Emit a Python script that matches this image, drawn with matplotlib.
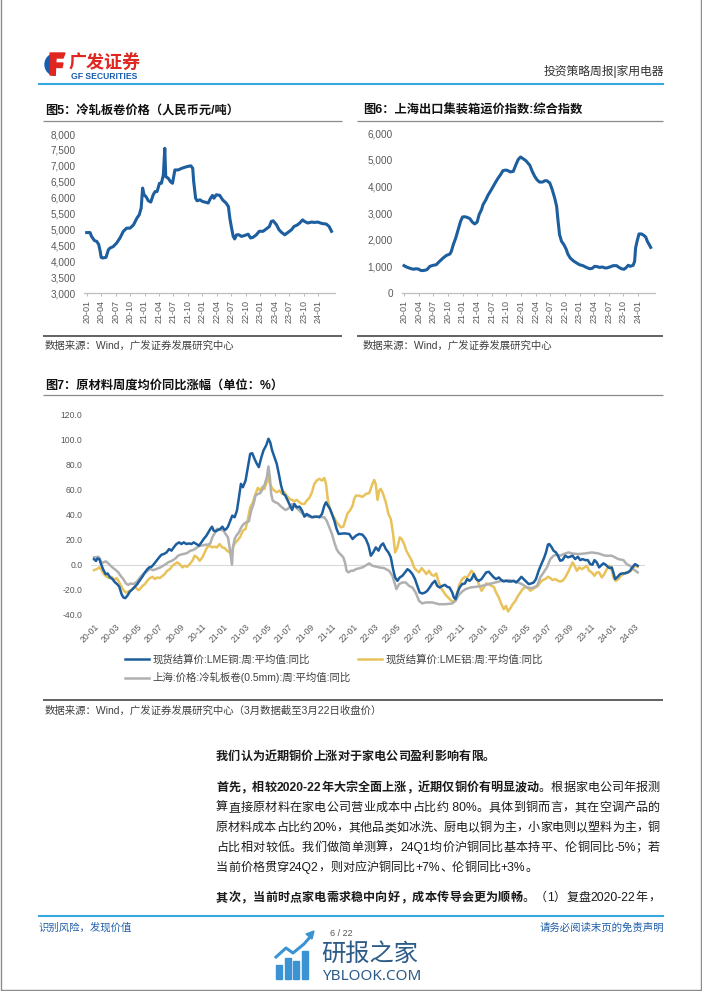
import matplotlib
matplotlib.use('Agg')
import matplotlib.pyplot as plt
from matplotlib import patches

plt.rcParams['font.family'] = ['Liberation Sans', 'Noto Sans CJK SC']
plt.rcParams['axes.unicode_minus'] = False

# ---------------- data (x = months since 2020-01) ----------------
steel_month = [0, 0.7, 1.0, 1.6, 2.1, 2.5, 2.8, 3.0, 3.3, 4.0, 4.5, 4.8, 5.5, 6.2, 6.9, 7.6, 8.3, 9.0,
               9.7, 10.4, 10.9, 11.3, 11.6, 11.9, 12.3, 12.8, 13.3, 13.8, 14.2, 14.6, 15.1, 15.5, 15.9,
               16.2, 16.4, 16.9, 17.4, 17.8, 18.3, 19.0, 19.7, 20.7, 21.6, 22.0, 22.2, 22.6, 22.9, 23.5,
               24.0, 24.5, 25.2, 25.7, 26.1, 26.4, 26.9, 27.6, 28.2, 28.9, 29.4, 29.7, 30.0, 30.4, 30.7,
               31.1, 31.6, 32.1, 32.8, 33.5, 34.0, 34.5, 35.2, 35.8, 36.6, 37.3, 37.9, 38.3, 38.7, 39.4,
               39.9, 40.4, 41.1, 41.8, 42.5, 43.0, 43.7, 44.2, 44.8, 45.2, 45.9, 46.6, 47.3, 48.0, 48.5,
               49.0, 49.7, 50.3, 50.8]
steel_price = [4900, 4900, 4780, 4650, 4620, 4520, 4310, 4120, 4100, 4120, 4360, 4410, 4460, 4570, 4730,
               4940, 5040, 5040, 5140, 5350, 5460, 5670, 6300, 6090, 6030, 5900, 5860, 6090, 6190, 6190,
               6450, 6450, 6710, 7550, 6660, 6610, 6500, 6450, 6870, 6870, 6920, 6970, 7000, 6920, 6500,
               5980, 5900, 5930, 5880, 5860, 5830, 5980, 6070, 5980, 6090, 6070, 5930, 5830, 5720, 5350,
               5090, 4780, 4700, 4830, 4830, 4780, 4810, 4850, 4730, 4750, 4830, 4940, 4940, 5020, 5090,
               5250, 5270, 5140, 4990, 4910, 4830, 4910, 4990, 5090, 5140, 5200, 5300, 5250, 5200, 5230,
               5220, 5230, 5200, 5180, 5170, 5090, 4940]

scfi_month = [0, 0.5, 1.0, 1.5, 2.0, 2.4, 2.9, 3.4, 3.8, 4.2, 4.7, 5.3, 6.0, 6.6, 7.3, 8.0, 8.7, 9.4,
              9.7, 10.1, 10.6, 11.1, 11.6, 12.0, 12.4, 12.9, 13.5, 14.0, 14.5, 15.0, 15.4, 15.9, 16.2,
              16.8, 17.2, 17.7, 18.3, 18.8, 19.3, 19.8, 20.3, 20.9, 21.3, 21.8, 22.4, 22.9, 23.4, 23.9,
              24.4, 25.0, 25.4, 25.8, 26.3, 26.8, 27.3, 27.8, 28.4, 28.9, 29.3, 29.9, 30.4, 30.9, 31.3,
              31.6, 31.9, 32.3, 32.8, 33.3, 33.6, 34.1, 34.7, 35.4, 36.0, 36.7, 37.4, 38.1, 38.6, 39.1,
              39.6, 40.1, 40.7, 41.2, 41.6, 42.2, 42.9, 43.6, 44.1, 44.6, 45.1, 45.5, 46.0, 46.4, 47.0,
              47.3, 47.5, 47.8, 48.2, 48.7, 49.2, 49.6, 49.9, 50.3, 50.6]
scfi_index = [1025, 975, 940, 910, 890, 910, 900, 850, 840, 850, 875, 1000, 1040, 1060, 1190, 1310, 1410,
              1460, 1560, 1810, 2060, 2375, 2690, 2850, 2860, 2840, 2790, 2660, 2590, 2660, 2940, 3125,
              3310, 3500, 3660, 3810, 4000, 4160, 4310, 4440, 4590, 4610, 4590, 4540, 4560, 4790, 5000,
              5100, 5040, 4960, 4875, 4790, 4560, 4375, 4240, 4160, 4160, 4210, 4210, 4125, 3875, 3560,
              3250, 2690, 2190, 1940, 1810, 1625, 1460, 1310, 1210, 1125, 1060, 1025, 960, 910, 925, 1000,
              990, 960, 975, 940, 940, 975, 1025, 1025, 960, 910, 890, 940, 1040, 1000, 1040, 1190, 1690,
              1940, 2215, 2215, 2160, 2090, 1940, 1810, 1710]

cu_month = [0, 0.18, 0.31, 0.49, 0.65, 0.86, 1.08, 1.26, 1.48, 1.72, 1.94, 2.15, 2.34, 2.55, 2.71, 2.89,
            3.08, 3.32, 3.57, 3.78, 4.0, 4.25, 4.49, 4.71, 4.92, 5.11, 5.32, 5.54, 5.78, 6.03, 6.25, 6.46,
            6.71, 6.95, 7.17, 7.38, 7.63, 7.88, 8.09, 8.31, 8.55, 8.8, 9.02, 9.23, 9.48, 9.72, 9.94, 10.15,
            10.4, 10.58, 10.77, 10.92, 11.08, 11.26, 11.48, 11.69, 11.88, 12.09, 12.25, 12.4, 12.62, 12.8,
            13.02, 13.23, 13.42, 13.6, 13.78, 14.03, 14.25, 14.46, 14.65, 14.86, 15.08, 15.26, 15.48,
            15.69, 15.94, 16.15, 16.31, 16.49, 16.71, 16.92, 17.11, 17.32, 17.54, 17.72, 17.94, 18.15,
            18.34, 18.55, 18.77, 19.02, 19.26, 19.48, 19.69, 19.94, 20.18, 20.4, 20.62, 20.86, 21.11,
            21.32, 21.48, 21.66, 21.85, 22.03, 22.25, 22.46, 22.65, 23.17, 23.63, 23.94, 24.25, 24.55,
            24.86, 25.17, 25.42, 25.63, 25.85, 26.09, 26.34, 26.55, 26.77, 27.02, 27.26, 27.48, 27.69,
            27.88, 28.09, 28.31, 28.55, 28.8, 29.02, 29.23, 29.48, 29.72, 29.94, 30.15, 30.4, 30.65,
            30.86, 31.08, 31.32, 31.57, 31.78, 32.0, 32.25, 32.49, 32.71, 32.92, 33.17, 33.32, 33.48,
            33.63, 33.85, 34.09, 34.34, 34.55, 34.77, 34.95, 35.17, 35.38, 35.63, 35.88, 36.09, 36.31,
            36.55, 36.8, 37.02, 37.23, 37.48, 37.72, 37.94, 38.15, 38.4, 38.65, 38.86, 39.08, 39.32,
            39.57, 39.78, 40.0, 40.25, 40.49, 40.71, 40.92, 41.17, 41.42, 41.63, 41.85, 42.03, 42.15,
            42.34, 42.55, 42.77, 42.95, 43.17, 43.38, 43.63, 43.88, 44.09, 44.31, 44.55, 44.8, 45.02,
            45.23, 45.48, 45.72, 45.94, 46.15, 46.34, 46.55, 46.77, 47.02, 47.17, 47.38, 47.63, 47.78,
            47.94, 48.09, 48.25, 48.49, 48.71, 48.92, 49.17, 49.42, 49.63, 49.85, 50.09, 50.34]
cu_yoy = [4.5, 3, 5, 4.5, 0.5, -4, -7.5, -7, -10, -11.5, -14, -15.5, -17.5, -23.4, -26, -26.6, -24.7,
          -21.3, -19.4, -17.5, -15.4, -12.2, -9.3, -6.1, -3.7, -2.1, -1.6, 0.5, 3.2, 5.9, 8, 8.5, 9.8,
          12.5, 11.2, 13.8, 16.5, 17.8, 16.5, 17.8, 16.5, 17, 16.5, 17.8, 16.5, 15.2, 17.8, 20.5, 23.1,
          25.8, 28.5, 30.3, 27.1, 26.6, 27.7, 28.5, 30.3, 27.7, 28.5, 30.3, 35.1, 39.1, 37.8, 43.1, 53.7,
          64.4, 61.7, 67, 77.7, 88.3, 88.8, 84.3, 80.3, 77.7, 85.1, 91, 95, 100.3, 97.6, 91, 85.6, 80.3,
          72.3, 63, 56.4, 55, 51, 47, 43.6, 48.4, 45.7, 46.3, 43.1, 38.3, 40.4, 39.1, 37.8, 38.3, 38.3,
          37.8, 40.4, 47, 49.7, 47, 44.4, 40.4, 35.1, 28.5, 24.5, 25, 24.5, 20.5, 23.1, 24.5, 23.9, 20.5,
          15.2, 7.2, 9.8, 13.8, 11.2, 15.2, 17, 12.5, 9.8, 5.9, -3.5, -10.1, -12.8, -10.1, -8.8, -6.1,
          -3.5, -4.8, -7.4, -11.4, -16.8, -22.1, -22.9, -22.1, -20.7, -18.1, -14.9, -12.8, -16.8, -18.1,
          -16.8, -16, -17.6, -18.1, -22.1, -26.1, -27.4, -22.9, -18.1, -15.4, -14.9, -11.4, -12.8, -11.4,
          -7.4, -11.4, -12.8, -11.4, -8.8, -6.1, -5.6, -8, -10.1, -11.4, -10.1, -12.2, -13.3, -12.8,
          -13.3, -13.3, -12.8, -14.1, -12.2, -9.6, -11.4, -13.3, -15.4, -14.9, -14.1, -11.4, -4.8, 0.5,
          4.5, 9.8, 16, 16.5, 14.4, 11.2, 9.8, 7.2, 3.2, 3.7, 7.2, 5.9, 6.4, 7.2, 4.5, 6.4, 3.7, 4.5,
          3.7, 3.7, 0.5, 0, 3.7, 1.9, -2.1, 0, 1.1, 0, -2.1, -2.7, -2.1, -6.1, -11.4, -9.6, -7.4, -6.9,
          -6.9, -6.1, -4.8, -2.1, 0.5, -0.8]

al_month = [0, 0.25, 0.49, 0.71, 0.92, 1.17, 1.42, 1.63, 1.85, 2.09, 2.34, 2.55, 2.77, 2.95, 3.17, 3.38,
            3.63, 3.88, 4.09, 4.25, 4.49, 4.71, 4.92, 5.17, 5.42, 5.63, 5.85, 6.09, 6.34, 6.55, 6.77,
            7.02, 7.26, 7.48, 7.69, 7.94, 8.18, 8.4, 8.62, 8.86, 9.11, 9.32, 9.54, 9.78, 10.03, 10.25,
            10.46, 10.71, 10.95, 11.17, 11.38, 11.63, 11.88, 12.09, 12.31, 12.55, 12.74, 12.92, 13.11,
            13.32, 13.54, 13.78, 14.03, 14.25, 14.46, 14.71, 14.95, 15.17, 15.38, 15.57, 15.78, 15.98,
            16.15, 16.28, 16.52, 16.71, 16.92, 17.17, 17.42, 17.63, 17.85, 18.09, 18.34, 18.55, 18.77,
            19.02, 19.26, 19.48, 19.69, 19.94, 20.18, 20.4, 20.62, 20.86, 21.11, 21.32, 21.48, 21.66,
            21.85, 22.03, 22.25, 22.46, 22.65, 22.86, 23.08, 23.26, 23.48, 23.69, 23.94, 24.09, 24.25,
            24.55, 24.86, 25.17, 25.48, 25.78, 25.94, 26.09, 26.25, 26.4, 26.55, 26.71, 27.02, 27.26,
            27.48, 27.69, 27.88, 28.09, 28.31, 28.49, 28.71, 28.92, 29.17, 29.42, 29.63, 29.85, 30.09,
            30.34, 30.55, 30.77, 31.02, 31.26, 31.48, 31.69, 31.88, 32.09, 32.31, 32.55, 32.8, 33.02,
            33.23, 33.42, 33.63, 33.85, 34.09, 34.34, 34.55, 34.77, 34.95, 35.17, 35.38, 35.63, 35.88,
            36.09, 36.31, 36.55, 36.8, 37.02, 37.23, 37.48, 37.72, 37.94, 38.15, 38.34, 38.55, 38.77,
            39.02, 39.26, 39.48, 39.69, 39.94, 40.18, 40.4, 40.62, 40.86, 41.11, 41.32, 41.54, 41.78,
            42.03, 42.25, 42.46, 42.71, 42.95, 43.17, 43.38, 43.63, 43.88, 44.09, 44.31, 44.49, 44.71,
            44.92, 45.17, 45.42, 45.63, 45.85, 46.09, 46.34, 46.55, 46.77, 47.02, 47.26, 47.48, 47.69,
            47.88, 48.09, 48.31, 48.55, 48.8, 49.02, 49.23, 49.48, 49.72, 49.94, 50.15, 50.34]
al_yoy = [-4.3, -3.5, -2.1, -4.3, -7.4, -9.6, -10.6, -9.6, -12.2, -10.6, -14.1, -17.6, -20.7, -22.1,
          -21.3, -20.7, -18.6, -18.1, -20.2, -19.4, -16.8, -15.4, -12.8, -10.6, -9.6, -11.4, -10.1,
          -10.6, -8.8, -7.4, -4.8, -3.5, -0.8, 0.5, 1.9, 0.5, -2.1, -0.8, -1.6, 0.5, 3.2, 7.2, 5.9, 3.2,
          5.9, 9.8, 13.8, 15.2, 13.8, 14.4, 13.8, 16.5, 13.8, 13.3, 11.2, 9.8, 9, 15.2, 17.8, 19.7, 22.3,
          27.1, 28.5, 36.4, 45.7, 49.7, 56.4, 61.2, 59, 62, 60.4, 65.7, 70.2, 64.4, 60.4, 59, 57.7, 59,
          56.4, 57.7, 55, 52.4, 51.6, 50.5, 51.6, 49.7, 48.4, 48.4, 51, 53.2, 57.7, 64.4, 67, 68.4, 67,
          69.1, 64.4, 51, 44.4, 40.4, 37.2, 33.8, 31.9, 29.8, 30.3, 35.1, 41, 43.1, 47, 52.4, 55, 55, 54,
          56.4, 57, 64.4, 67.5, 64, 51.6, 59, 60.4, 57.7, 49.7, 40.4, 36.4, 24.5, 9.8, 13.8, 21.8, 20.5,
          16.5, 11.2, 7.2, 3.2, -2.1, -4.3, -6.1, -2.7, -4.8, -7.4, -4.8, -8, -8.8, -6.9, -12.8, -18.1,
          -20.7, -23.9, -26.1, -28.2, -29.3, -28.7, -22.1, -15.4, -11.4, -9.6, -10.1, -7.4, -4.8, -6.9,
          -10.1, -15.4, -20.7, -18.1, -14.9, -15.4, -16.8, -17.6, -22.1, -26.1, -31.4, -35.4, -32.7,
          -37.2, -34.6, -31.4, -28.7, -24.7, -22.1, -19.4, -17.6, -18.6, -20.7, -19.4, -18.1, -16.8,
          -14.1, -12.2, -11.4, -9.6, -10.6, -12.2, -11.4, -12.8, -13.3, -12.8, -10.1, -6.1, -2.1, 1.9,
          -0.8, -4.8, -2.1, -3.5, -2.1, -0.8, -4.8, -6.1, -8.8, -6.1, -6.1, -10.1, -7.4, -3.5, -0.8,
          -2.1, -10.1, -12.8, -11.4, -8.8, -7.4, -6.1, -6.1, -4.8, -2.1, -0.8, -1.6]

crc_month = [0, 0.18, 0.4, 0.55, 0.71, 0.86, 1.08, 1.32, 1.54, 1.78, 2.03, 2.25, 2.46, 2.71, 2.95, 3.17,
             3.38, 3.63, 3.88, 4.09, 4.31, 4.55, 4.8, 5.02, 5.23, 5.48, 5.72, 5.94, 6.15, 6.4, 6.65, 6.86,
             7.08, 7.32, 7.57, 7.78, 8.0, 8.25, 8.49, 8.71, 8.92, 9.17, 9.42, 9.63, 9.85, 10.09, 10.34,
             10.55, 10.77, 10.95, 11.17, 11.38, 11.57, 11.78, 12.0, 12.18, 12.4, 12.55, 12.68, 12.77,
             12.86, 13.02, 13.17, 13.42, 13.63, 13.85, 14.09, 14.34, 14.55, 14.77, 14.95, 15.17, 15.38,
             15.63, 15.82, 16.0, 16.15, 16.28, 16.4, 16.55, 16.8, 17.02, 17.23, 17.48, 17.72, 17.94,
             18.15, 18.34, 18.55, 18.77, 19.02, 19.26, 19.48, 19.69, 19.94, 20.18, 20.4, 20.62, 20.86,
             21.11, 21.32, 21.54, 21.78, 22.03, 22.25, 22.46, 22.65, 22.86, 23.08, 23.26, 23.38, 23.57,
             23.78, 24.0, 24.25, 24.86, 25.48, 25.78, 26.4, 26.86, 27.32, 27.63, 28.0, 28.25, 28.55,
             28.86, 29.17, 29.48, 29.78, 30.09, 30.4, 30.71, 31.32, 31.94, 32.55, 33.17, 33.48, 33.78,
             34.09, 34.4, 34.86, 35.32, 35.94, 36.55, 37.17, 37.78, 38.4, 39.02, 39.63, 40.09, 40.55,
             41.02, 41.32, 41.63, 41.94, 42.25, 42.55, 42.86, 43.17, 43.48, 43.94, 44.25, 44.86, 45.48,
             46.09, 46.71, 47.32, 47.94, 48.55, 49.02, 49.32, 49.63, 49.94, 50.34]
crc_yoy = [5.9, 5.9, 6.4, 4.5, 1.1, 1.9, 2.7, 1.1, -0.8, -2.7, -4.3, -6.1, -8.8, -11.4, -14.9, -16,
           -14.9, -15.4, -14.1, -12.2, -9.6, -7.4, -6.1, -4.3, -3.5, -4.3, -3.5, -2.7, -2.1, -0.8, 0.5,
           1.9, 2.7, 3.7, 5.3, 7.2, 8, 8.5, 9, 9.8, 11.2, 11.7, 13, 14.4, 15.2, 15.4, 16, 16, 17, 21.8, 25,
           28.5, 28.5, 27.7, 27.1, 24.5, 21.8, 13.8, 5.9, 0, 13.8, 20.5, 23.1, 25.8, 29.8, 32.4, 33.8,
           34.6, 43.1, 48.4, 55, 56.4, 56.9, 60.4, 64.4, 69.7, 78.2, 69.7, 56.4, 51, 49.7, 48.9, 47, 45.2,
           43.6, 44.4, 46.3, 48.4, 47, 45.2, 43.1, 41, 39.9, 39.1, 38.3, 37.8, 37.8, 38.3, 38.3, 37.8,
           37.8, 35.1, 29.8, 24.5, 17.8, 12.5, 9.8, 8, 5.9, 1.1, -4.8, -6.1, -4.8, -4.8, -3.5, -2.1, 1.1,
           -0.8, -2.1, -2.7, -4.8, -8.8, -19.4, -15.4, -14.1, -14.1, -16.8, -18.1, -22.1, -28.7, -30.8,
           -30, -30, -31.4, -31.4, -30.8, -28.7, -24, -21.3, -19.4, -18.1, -17.6, -16.8, -15.4, -14.1,
           -12.8, -12.2, -13.3, -15.4, -18.1, -18.6, -16.8, -10.1, -6.1, -2.1, 4.5, 7.2, 8, 7.2, 8.5,
           9.8, 9, 8.5, 9, 9.8, 9, 7.2, 7.2, 4.5, 3.7, 0.5, -0.8, -3.5, -6.1]

q_ticks = list(range(0, 49, 3))
q_labels = ['20-01', '20-04', '20-07', '20-10', '21-01', '21-04', '21-07', '21-10', '22-01',
            '22-04', '22-07', '22-10', '23-01', '23-04', '23-07', '23-10', '24-01']
b_ticks = list(range(0, 51, 2))
b_labels = ['20-01', '20-03', '20-05', '20-07', '20-09', '20-11', '21-01', '21-03', '21-05',
            '21-07', '21-09', '21-11', '22-01', '22-03', '22-05', '22-07', '22-09', '22-11',
            '23-01', '23-03', '23-05', '23-07', '23-09', '23-11', '24-01', '24-03']
lbl_cu = '现货结算价:LME铜:周:平均值:同比'
lbl_al = '现货结算价:LME铝:周:平均值:同比'
lbl_crc = '上海:价格:冷轧板卷(0.5mm):周:平均值:同比'

BLUE = '#1d5e9e'
GOLD = '#e8c25a'
GREY = '#b0b0b0'
TICK = '#595959'
HEAD_BLUE = '#35a9e0'

W, H = 702, 991
fig = plt.figure(figsize=(W / 100, H / 100), dpi=100)
page = fig.add_axes([0, 0, 1, 1])
page.set_xlim(0, W)
page.set_ylim(H, 0)
page.axis('off')
renderer = fig.canvas.get_renderer()


def px_axes(x0, y0, x1, y1):
    a = fig.add_axes([x0 / W, 1 - y1 / H, (x1 - x0) / W, (y1 - y0) / H])
    a.set_facecolor('none')
    return a


def hline(y, x0, x1, color, lw):
    page.plot([x0, x1], [y, y], color=color, lw=lw, solid_capstyle='butt')


# page frame
page.plot([0.5, 0.5, 700.5, 700.5], [0, 989.5, 989.5, 0], color='#8c8c8c', lw=1)

# ---------------- header ----------------
page.add_patch(patches.Wedge((56, 64.5), 11, 95, 265, width=5.5, color='#1a5cb0'))
page.add_patch(patches.Polygon([[50, 53], [65, 53], [63, 58], [51, 58]], color='#e0261f'))
page.add_patch(patches.Polygon([[51, 58], [56, 58], [55, 75], [50, 75]], color='#e0261f'))
page.add_patch(patches.Polygon([[55, 63], [63, 63], [62, 67.5], [55, 67.5]], color='#e0261f'))
page.text(69, 62, '广发证券', fontsize=13, fontweight='bold', color='#e0261f',
          family=['Noto Sans CJK SC'], va='center', ha='left')
page.text(71, 76.5, 'GF SECURITIES', fontsize=6.2, fontweight='bold', color='#1a5cb0',
          va='center', ha='left')
page.text(664, 72, '投资策略周报|家用电器', fontsize=8.5, color='#333333', va='center', ha='right')
hline(83.5, 38, 664, HEAD_BLUE, 1.5)

# ---------------- titles / rules ----------------
TFS = 8.8
page.text(45, 111, '图5：冷轧板卷价格（人民币元/吨）', fontsize=TFS, fontweight='bold', color='#111111',
          va='center', ha='left')
page.text(363, 111, '图6：上海出口集装箱运价指数:综合指数', fontsize=TFS, fontweight='bold', color='#111111',
          va='center', ha='left')
hline(121, 43, 342, '#8a8a8a', 0.9)
hline(121, 357, 663, '#8a8a8a', 0.9)
hline(336, 43, 342, '#555555', 1.3)
hline(336, 357, 663, '#555555', 1.3)
page.text(45, 346, '数据来源：Wind，广发证券发展研究中心', fontsize=7.5, color='#404040', va='center', ha='left')
page.text(363, 346, '数据来源：Wind，广发证券发展研究中心', fontsize=7.5, color='#404040', va='center', ha='left')

page.text(45, 386, '图7：原材料周度均价同比涨幅（单位：%）', fontsize=TFS, fontweight='bold', color='#111111',
          va='center', ha='left')
hline(394.5, 43, 663, '#8a8a8a', 0.9)
hline(700, 43, 663, '#555555', 1.3)
page.text(45, 711, '数据来源：Wind，广发证券发展研究中心（3月数据截至3月22日收盘价）', fontsize=7.5,
          color='#404040', va='center', ha='left')


def style_small(a):
    for s in ['left', 'right', 'top']:
        a.spines[s].set_visible(False)
    a.spines['bottom'].set_color('#bfbfbf')
    a.spines['bottom'].set_linewidth(0.9)
    a.tick_params(axis='y', length=0, pad=6.3, labelsize=7.2, labelcolor=TICK)
    a.tick_params(axis='x', length=2, color='#bfbfbf', pad=3, labelsize=6.5, labelcolor=TICK,
                  labelrotation=90)


# ---------------- figure 5 ----------------
ax5 = px_axes(84.3, 134, 334.9, 293)
ax5.plot(steel_month, steel_price, color=BLUE, lw=2.2, solid_joinstyle='round')
ax5.set_xlim(-0.5, 51.5)
ax5.set_ylim(3000, 8000)
ax5.set_yticks(range(3000, 8001, 500))
ax5.set_yticklabels([f'{v:,}' for v in range(3000, 8001, 500)])
ax5.set_xticks(q_ticks)
ax5.set_xticklabels(q_labels)
style_small(ax5)

# ---------------- figure 6 ----------------
ax6 = px_axes(401.6, 133, 655.1, 293)
ax6.plot(scfi_month, scfi_index, color=BLUE, lw=2.2, solid_joinstyle='round')
ax6.set_xlim(-0.5, 51.5)
ax6.set_ylim(0, 6000)
ax6.set_yticks(range(0, 6001, 1000))
ax6.set_yticklabels([f'{v:,}' for v in range(0, 6001, 1000)])
ax6.set_xticks(q_ticks)
ax6.set_xticklabels(q_labels)
style_small(ax6)

# ---------------- figure 7 ----------------
ax7 = px_axes(90.8, 414, 644.8, 615)
ax7.axhline(0, color='#d9d9d9', lw=0.8, zorder=1)
l_cu, = ax7.plot(cu_month, cu_yoy, color=BLUE, lw=1.8, zorder=3, solid_joinstyle='round')
l_al, = ax7.plot(al_month, al_yoy, color=GOLD, lw=1.8, zorder=2, solid_joinstyle='round')
l_crc, = ax7.plot(crc_month, crc_yoy, color=GREY, lw=1.8, zorder=2, solid_joinstyle='round')
ax7.set_xlim(-0.3, 51.0)
ax7.set_ylim(-40, 120)
ax7.set_yticks(range(-40, 121, 20))
ax7.set_yticklabels([f'{v:.1f}' for v in range(-40, 121, 20)])
ax7.set_xticks(b_ticks)
ax7.set_xticklabels(b_labels, rotation=45, ha='right', va='top', rotation_mode='anchor')
for s in ax7.spines.values():
    s.set_visible(False)
ax7.tick_params(axis='y', length=0, pad=6, labelsize=6.2, labelcolor=TICK)
ax7.tick_params(axis='x', length=0, pad=5, labelsize=6.2, labelcolor=TICK)

leg_kw = dict(loc='upper left', bbox_transform=page.transData, frameon=False, fontsize=7.5,
              handlelength=2.3, handletextpad=0.35, labelspacing=0.75, borderpad=0,
              borderaxespad=0, labelcolor='#404040')
leg1 = page.legend([l_cu, l_crc], [lbl_cu, lbl_crc], bbox_to_anchor=(125, 654), **leg_kw)
page.add_artist(leg1)
page.legend([l_al], [lbl_al], bbox_to_anchor=(358, 654), **leg_kw)

# ---------------- body text ----------------
BFS = 8.7
X0, X1 = 216, 660


def text_line(segs, y, justify=True):
    toks = []
    for s, bold in segs:
        buf = ''
        for ch in s:
            if ord(ch) < 128:
                buf += ch
            else:
                if buf:
                    toks.append((buf, bold))
                    buf = ''
                toks.append((ch, bold))
        if buf:
            toks.append((buf, bold))
    arts, widths = [], []
    for t, bold in toks:
        a = page.text(0, y, t, fontsize=BFS, fontweight='bold' if bold else 'normal',
                      color='#1a1a1a', va='center', ha='left')
        arts.append(a)
        widths.append(a.get_window_extent(renderer).width)
    gap = (X1 - X0 - sum(widths)) / (len(toks) - 1) if justify else 0
    x = X0
    for a, w in zip(arts, widths):
        a.set_x(x)
        x += w + gap


text_line([('我们认为近期铜价上涨对于家电公司盈利影响有限。', True)], 757, justify=False)
text_line([('首先，相较2020-22年大宗全面上涨，近期仅铜价有明显波动', True), ('。根据家电公司年报测', False)], 788)
text_line([('算直接原材料在家电公司营业成本中占比约 80%。具体到铜而言，其在空调产品的', False)], 808)
text_line([('原材料成本占比约20%，其他品类如冰洗、厨电以铜为主，小家电则以塑料为主，铜', False)], 828)
text_line([('占比相对较低。我们做简单测算，24Q1均价沪铜同比基本持平、伦铜同比-5%；若', False)], 848)
text_line([('当前价格贯穿24Q2，则对应沪铜同比+7%、伦铜同比+3%。', False)], 868, justify=False)
text_line([('其次，当前时点家电需求稳中向好，成本传导会更为顺畅', True), ('。（1）复盘2020-22年，', False)], 898)

# ---------------- footer ----------------
hline(916, 38, 664, HEAD_BLUE, 1.5)
page.text(38, 928, '识别风险，发现价值', fontsize=7.5, color='#1f5fa8', va='center', ha='left')
page.text(664, 928, '请务必阅读末页的免责声明', fontsize=7.5, color='#1f5fa8', va='center', ha='right')
page.text(341, 934, '6 / 22', fontsize=6.5, color='#555555', va='center', ha='center')

# watermark
WM = '#3b93d3'
for bx, btop in [(276, 965), (284.5, 958), (293, 961), (301.5, 951)]:
    page.add_patch(patches.Rectangle((bx, btop), 6, 979 - btop, color=WM))
page.plot([276, 286, 293, 304, 311], [957, 948, 953, 944, 936], color=WM, lw=2.2)
page.add_patch(patches.Polygon([[306, 934], [314, 931], [312, 939]], color=WM))
page.text(321, 954, '研报之家', fontsize=17.5, color='#2d5b88', family=['Noto Sans CJK SC'],
          va='center', ha='left')
page.text(322, 976, 'YBLOOK.COM', fontsize=11, color='#2d5b88', family=['Noto Sans'],
          va='center', ha='left')

fig.savefig('out.png', dpi=100)
